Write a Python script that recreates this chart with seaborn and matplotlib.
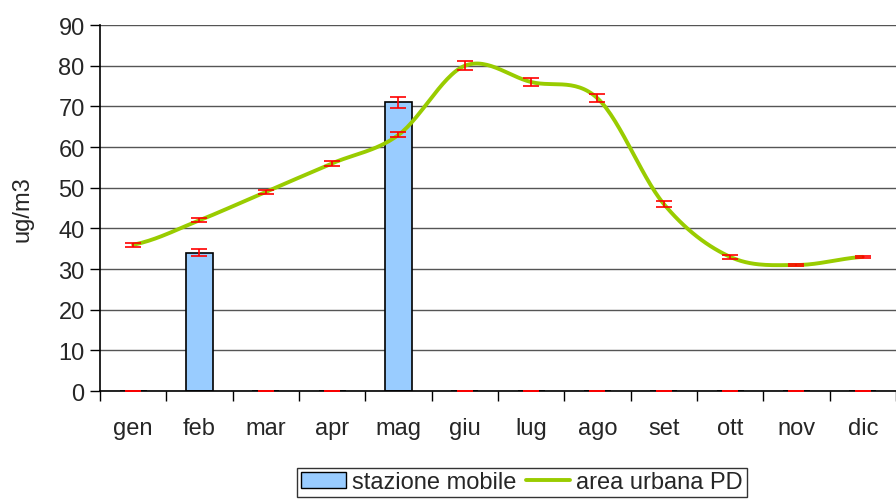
import matplotlib
matplotlib.use("Agg")
import matplotlib.pyplot as plt
import seaborn as sns
import pandas as pd
import numpy as np
from matplotlib.patches import Patch
from matplotlib.lines import Line2D

# Data
months = ['gen', 'feb', 'mar', 'apr', 'mag', 'giu', 'lug', 'ago', 'set', 'ott', 'nov', 'dic']
mobile = [0, 34, 0, 0, 71, 0, 0, 0, 0, 0, 0, 0]
mobile_err = [0, 0.9, 0, 0, 1.3, 0, 0, 0, 0, 0, 0, 0]
urban = [36, 42, 49, 56, 63, 80, 76, 72, 46, 33, 31, 33]
urban_err = [0.5, 0.5, 0.5, 0.6, 0.6, 1.1, 1.0, 1.0, 0.7, 0.5, 0.2, 0.2]

BAR_COLOR = '#99CCFF'
LINE_COLOR = '#99CC00'
ERR_COLOR = '#FF0000'
FS = 17


# smooth line like Excel's "smoothed line" (Catmull-Rom through the points)
def catmull_rom(y, n=30):
    y = np.asarray(y, dtype=float)
    xs, ys = [], []
    for i in range(len(y) - 1):
        p0 = y[i - 1] if i > 0 else y[i]
        p1, p2 = y[i], y[i + 1]
        p3 = y[i + 2] if i + 2 < len(y) else y[i + 1]
        t = np.linspace(0, 1, n, endpoint=False)
        seg = 0.5 * ((2 * p1) + (-p0 + p2) * t + (2 * p0 - 5 * p1 + 4 * p2 - p3) * t ** 2
                     + (-p0 + 3 * p1 - 3 * p2 + p3) * t ** 3)
        xs.append(i + t)
        ys.append(seg)
    xs.append([len(y) - 1])
    ys.append([y[-1]])
    return np.concatenate(xs), np.concatenate(ys)


sns.set_style('white')
plt.rcParams['font.family'] = ['Liberation Sans', 'DejaVu Sans']

fig = plt.figure(figsize=(8.96, 5.02), dpi=100)
ax = fig.add_axes([0.1116, 0.219, 0.8884, 0.729])

df = pd.DataFrame({'month': months, 'value': mobile})
sns.barplot(data=df, x='month', y='value', color=BAR_COLOR, width=0.41,
            edgecolor='black', linewidth=1.2, saturation=1, ax=ax, zorder=2)

x = np.arange(len(months))
ax.errorbar(x, mobile, yerr=mobile_err, fmt='none', ecolor=ERR_COLOR,
            elinewidth=1.2, capsize=5.5, capthick=1.2, zorder=4)

sx, sy = catmull_rom(urban)
ax.plot(sx, sy, color=LINE_COLOR, lw=2.8, zorder=3, solid_capstyle='round')
ax.errorbar(x, urban, yerr=urban_err, fmt='none', ecolor=ERR_COLOR,
            elinewidth=1.2, capsize=5.5, capthick=1.2, zorder=4)

ax.set_xlim(-0.5, len(months) - 0.5)
ax.set_ylim(0, 90)
ax.set_yticks(range(0, 91, 10))
ax.yaxis.grid(True, color='#555555', lw=1.0)
ax.set_axisbelow(True)

ax.set_xticks(x)
ax.set_xticklabels(months)
ax.set_xticks(np.arange(-0.5, len(months), 1), minor=True)
ax.tick_params(axis='x', which='major', length=0, pad=19, labelsize=FS)
ax.tick_params(axis='x', which='minor', length=7, width=1, color='black', direction='out')
ax.tick_params(axis='y', length=7, width=1, color='black', direction='out', labelsize=FS, pad=4)
ax.tick_params(bottom=True, left=True, which='both')

ax.set_xlabel('')
ax.set_ylabel('ug/m3', fontsize=FS, labelpad=18)

for s in ['top', 'right']:
    ax.spines[s].set_visible(False)
for s in ['left', 'bottom']:
    ax.spines[s].set_color('black')
    ax.spines[s].set_linewidth(1.2)

handles = [Patch(facecolor=BAR_COLOR, edgecolor='black', linewidth=1.0),
           Line2D([0], [0], color=LINE_COLOR, lw=2.8)]
leg = fig.legend(handles, ['stazione mobile', 'area urbana PD'], ncol=2,
                 loc='upper center', bbox_to_anchor=(0.5826, 0.066),
                 fontsize=FS, frameon=True, fancybox=False, edgecolor='black',
                 handlelength=1.9, handletextpad=0.25, columnspacing=0.4,
                 borderpad=0.15, borderaxespad=0)
leg.get_frame().set_linewidth(1.0)

fig.savefig('out.png', dpi=100)
